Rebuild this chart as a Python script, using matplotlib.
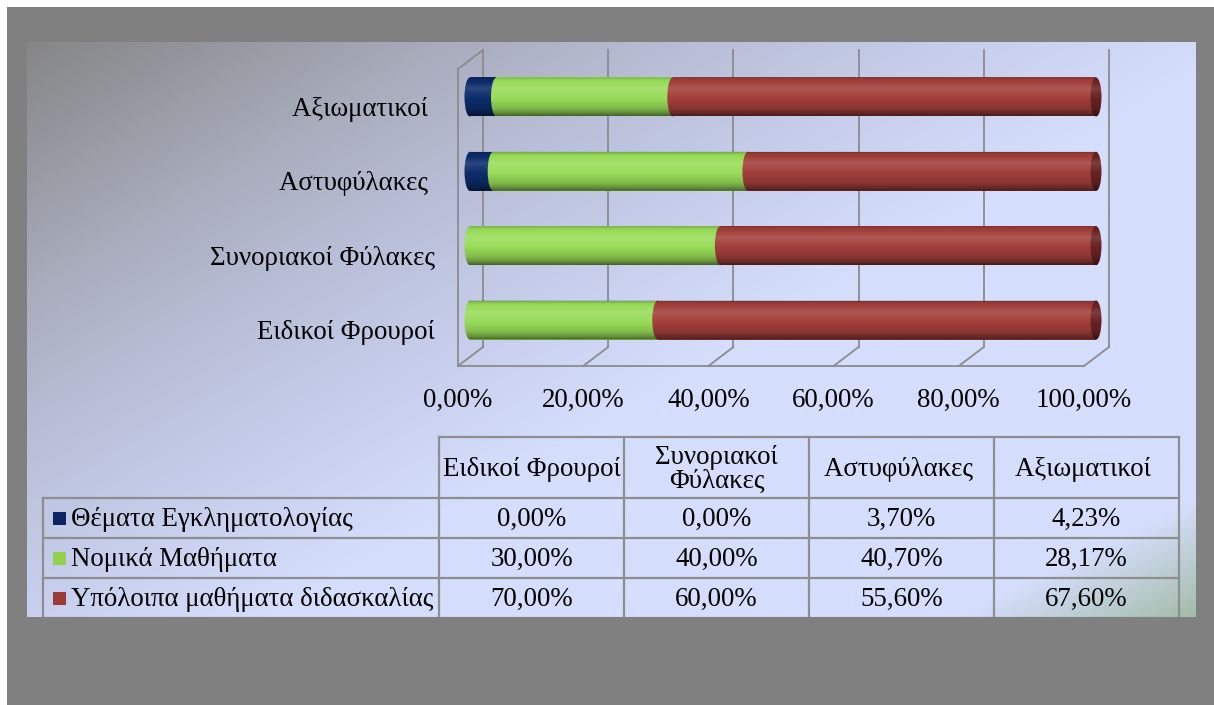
import textwrap
import numpy as np
import matplotlib
matplotlib.use("Agg")
import matplotlib.pyplot as plt
from matplotlib.patches import Rectangle, Ellipse, PathPatch
from matplotlib.path import Path
from matplotlib.transforms import ScaledTranslation, blended_transform_factory
from matplotlib.colors import to_rgb

# ---------------- data ----------------
categories = ["Ειδικοί Φρουροί", "Συνοριακοί Φύλακες", "Αστυφύλακες ", "Αξιωματικοί "]
series_names = ["Θέματα Εγκληματολογίας", "Νομικά Μαθήματα", "Υπόλοιπα μαθήματα διδασκαλίας"]
crim_values = [0.00, 0.00, 3.70, 4.23]
law_values = [30.00, 40.00, 40.70, 28.17]
other_values = [70.00, 60.00, 55.60, 67.60]
x_ticks = [0, 20, 40, 60, 80, 100]

series_colors = ["#0d2c6c", "#98dc58", "#a23f3b"]
legend_colors = ["#0b2462", "#92d050", "#9b3b37"]
endcap_color = "#6a2222"

W, H, DPI = 1214, 705, 100
FONT = "Liberation Serif"
FS = 19.4

def fmt(v):
    return f"{v:.2f}%".replace(".", ",")

fig = plt.figure(figsize=(W / DPI, H / DPI), dpi=DPI, facecolor="white")

def px_axes(x0, y0, x1, y1, **kw):
    return fig.add_axes([x0 / W, 1 - y1 / H, (x1 - x0) / W, (y1 - y0) / H], **kw)

# ---------------- frame & background ----------------
bg = px_axes(0, 0, W, H)
bg.set_xlim(0, W); bg.set_ylim(H, 0); bg.axis("off")
bg.add_patch(Rectangle((7, 7), W - 7, H - 7, facecolor="#808080", edgecolor="none"))

PX0, PY0, PX1, PY1 = 27, 42, 1196, 617
pan = px_axes(PX0, PY0, PX1, PY1)
pan.set_xlim(PX0, PX1); pan.set_ylim(PY1, PY0); pan.axis("off")

nu, nv = 300, 160
u = np.linspace(0, 1, nu)[None, :]
v = np.linspace(0, 1, nv)[:, None]
t = 0.6 * u + 0.5 * v
stops_t = [0, 0.22, 0.35, 0.5, 0.63, 1.0]
stops_c = [to_rgb(c) for c in ["#868686", "#a9adbd", "#b9bfd8", "#c8d0ee", "#d5defc", "#d5defc"]]
img = np.zeros((nv, nu, 3))
for k in range(3):
    img[..., k] = np.interp(t, stops_t, [c[k] for c in stops_c])
gw = np.clip((u + v - 1.80) / 0.2, 0, 1)[..., None] * 0.8
img = img * (1 - gw) + np.array(to_rgb("#98b494")) * gw
pan.imshow(img, extent=(PX0, PX1, PY1, PY0), origin="upper", aspect="auto",
           interpolation="bilinear", zorder=0)

# ---------------- bar chart ----------------
ppu = 626 / 100.0          # pixels per data unit on x
XPAD = 3
ax = px_axes(470 - XPAD * ppu, 59.8, 1096 + XPAD * ppu, 357.2)
ax.patch.set_visible(False)
ax.axis("off")
ypos = np.arange(len(categories))
bh = 0.525
cap_w = 11 / ppu           # elliptical cap width in data units

wall_c = "#8c8c8c"
xy_tr = blended_transform_factory(ax.transData, bg.transData)
for tk in x_ticks:
    ax.plot([tk + 13 / ppu] * 2, [50, 347], color=wall_c, lw=1.3, transform=xy_tr,
            clip_on=False, zorder=0.5)
    ax.plot([tk - 12 / ppu, tk + 13 / ppu], [366, 347], color=wall_c, lw=1.3,
            transform=xy_tr, clip_on=False, zorder=0.5)
ax.plot([x_ticks[0] - 12 / ppu, x_ticks[-1] - 12 / ppu], [366, 366], color=wall_c, lw=1.3,
        transform=xy_tr, clip_on=False, zorder=0.5)
ax.plot([x_ticks[0] - 12 / ppu] * 2, [69, 366], color=wall_c, lw=1.3,
        transform=xy_tr, clip_on=False, zorder=0.5)
ax.plot([x_ticks[0] - 12 / ppu, x_ticks[0] + 13 / ppu], [69, 50], color=wall_c, lw=1.3,
        transform=xy_tr, clip_on=False, zorder=0.5)

all_series = [crim_values, law_values, other_values]
lefts = np.zeros(len(categories))
z = 2.0
for vals, col in zip(all_series, series_colors):
    vals = np.array(vals)
    ax.barh(ypos, vals, left=lefts, height=bh, color=col, edgecolor="none", zorder=z)
    for yi, l, w in zip(ypos, lefts, vals):
        if w > 0:
            ax.add_patch(Ellipse((l, yi), cap_w, bh, facecolor=col, edgecolor="none", zorder=z))
    lefts = lefts + vals
    z += 0.1
totals = lefts.copy()
for yi, tot in zip(ypos, totals):
    ax.add_patch(Ellipse((tot, yi), cap_w, bh, facecolor=endcap_color, edgecolor="none", zorder=z))

# cylinder shading overlay
prof_pos = [0, 0.08, 0.3, 0.55, 0.8, 0.92, 1.0]
prof_val = [-0.28, -0.05, 0.13, 0.0, -0.15, -0.35, -0.55]
rows = np.linspace(0, 1, 60)
s = np.interp(rows, prof_pos, prof_val)
shade = np.zeros((60, 1, 4))
shade[:, 0, :3] = np.where(s[:, None] > 0, 1.0, 0.0)
shade[:, 0, 3] = np.abs(s)
theta = np.linspace(-np.pi / 2, np.pi / 2, 40)
for yi, tot in zip(ypos, totals):
    rx, ry = cap_w / 2, bh / 2
    right = np.column_stack([tot + rx * np.cos(theta), yi + ry * np.sin(theta)])
    left = np.column_stack([0 - rx * np.cos(theta), yi - ry * np.sin(theta)])
    verts = np.vstack([right, left, right[:1]])
    path = Path(verts, closed=True)
    pp = PathPatch(path, transform=ax.transData, facecolor="none", edgecolor="none")
    ax.add_patch(pp)
    im = ax.imshow(shade, extent=(-2, tot + 2, yi - bh / 2, yi + bh / 2), origin="upper",
                   aspect="auto", interpolation="bilinear", zorder=z + 1)
    im.set_clip_path(pp)

ax.set_xlim(-XPAD, 100 + XPAD)
ax.set_ylim(-0.5, len(categories) - 0.5)

# category labels
for yi, cat in zip(ypos, categories):
    ax.text(0, yi, cat, ha="right", va="baseline", family=FONT, fontsize=FS, color="black",
            transform=ax.transData + ScaledTranslation(-35 / DPI, -19 / DPI, fig.dpi_scale_trans))
# value axis labels (front edge)
for tk in x_ticks:
    ax.text(tk - 12 / ppu, 407, fmt(tk), ha="center", va="baseline", family=FONT, fontsize=FS,
            transform=xy_tr, clip_on=False)

# ---------------- data table ----------------
line_c = "#8e8e8e"
lw = 1.6
col_x = [439, 624, 809, 994, 1179]
label_x0 = 43
head_top, head_bot = 437, 498
row_h = 40
row_tops = [head_bot + i * row_h for i in range(len(series_names))]
tbl_bot = row_tops[-1] + row_h

pan.plot([col_x[0], col_x[-1]], [head_top, head_top], color=line_c, lw=lw, zorder=3)
for r in row_tops:
    pan.plot([label_x0, col_x[-1]], [r, r], color=line_c, lw=lw, zorder=3)
pan.plot([label_x0, col_x[-1]], [tbl_bot, tbl_bot], color=line_c, lw=lw, zorder=3)
for cx in col_x:
    pan.plot([cx, cx], [head_top, tbl_bot], color=line_c, lw=lw, zorder=3)
pan.plot([label_x0, label_x0], [head_bot, tbl_bot], color=line_c, lw=lw, zorder=3)

for j, cat in enumerate(categories):
    cxm = (col_x[j] + col_x[j + 1]) / 2
    lab = textwrap.fill(cat.strip(), 16)
    if "\n" in lab:
        pan.text(cxm, (head_top + head_bot) / 2 + 2, lab, ha="center", va="center",
                 family=FONT, fontsize=FS, linespacing=0.95, zorder=4)
    else:
        pan.text(cxm, (head_top + head_bot) / 2 + 8, cat, ha="center", va="baseline",
                 family=FONT, fontsize=FS, zorder=4)

for i, (name, vals, lc) in enumerate(zip(series_names, all_series, legend_colors)):
    yc = row_tops[i] + row_h / 2
    pan.add_patch(Rectangle((53, yc - 6.5), 13, 13, facecolor=lc, edgecolor="none", zorder=4))
    pan.text(71, yc + 8, name, ha="left", va="baseline", family=FONT, fontsize=FS, zorder=4)
    for j, val in enumerate(vals):
        cxm = (col_x[j] + col_x[j + 1]) / 2
        pan.text(cxm, yc + 8, fmt(val), ha="center", va="baseline", family=FONT,
                 fontsize=FS, zorder=4, clip_on=True)

fig.savefig("out.png", dpi=DPI)
